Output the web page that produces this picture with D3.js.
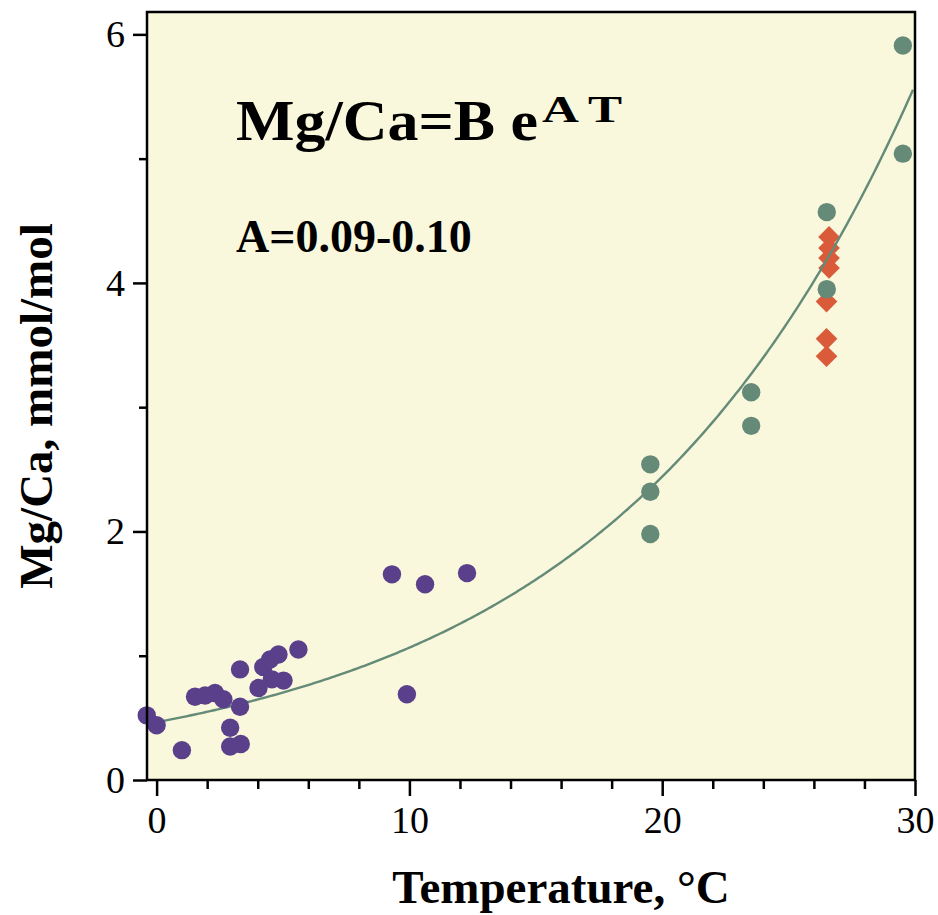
<!DOCTYPE html>
<html><head><meta charset="utf-8">
<script src="https://cdn.jsdelivr.net/npm/d3@7"></script>
<style>body{margin:0;background:#fff}svg{display:block}</style>
</head><body>
<svg id="chart" width="938" height="915"></svg>
<script>
// Data (temperature °C, Mg/Ca mmol/mol)
const coldT  = [-0.39, 0.0, 1.0, 1.52, 1.92, 2.31, 2.64, 3.30, 3.30, 2.91, 2.91, 3.33, 4.03, 4.22, 4.49, 4.82, 4.56, 5.02, 5.61, 9.90, 9.31, 10.62, 12.28];
const coldMg = [0.52, 0.44, 0.24, 0.67, 0.68, 0.70, 0.65, 0.89, 0.59, 0.42, 0.27, 0.29, 0.74, 0.91, 0.97, 1.01, 0.81, 0.80, 1.05, 0.69, 1.655, 1.575, 1.665];
const warmT  = [19.53, 19.53, 19.53, 23.52, 23.52, 26.51, 26.51, 29.52, 29.52];
const warmMg = [2.54, 2.32, 1.98, 3.12, 2.85, 4.57, 3.95, 5.91, 5.04];
const diamT  = [26.6, 26.6, 26.6, 26.6, 26.5, 26.5, 26.5];
const diamMg = [4.37, 4.28, 4.20, 4.12, 3.85, 3.55, 3.41];
// exponential fit Mg/Ca = B e^(A T)
const fitA = [0.0829];
const fitB = [0.465];
const xTicks = [0, 10, 20, 30];
const xMinor = [2, 4, 6, 8, 12, 14, 16, 18, 22, 24, 26, 28];
const yTicks = [0, 2, 4, 6];
const yMinor = [1, 3, 5];

const svg = d3.select("#chart");
const L = 147, R = 915, T = 12, B = 780;
const x = d3.scaleLinear().domain([-0.38, 30]).range([L, R]);
const y = d3.scaleLinear().domain([0, 6.18]).range([B, T]);

svg.append("rect").attr("x", L).attr("y", T).attr("width", R - L).attr("height", B - T)
  .attr("fill", "#f9f7dc");

const clip = svg.append("clipPath").attr("id", "clip");
clip.append("rect").attr("x", L).attr("y", T).attr("width", R - L).attr("height", B - T);
const plot = svg.append("g").attr("clip-path", "url(#clip)");

// diamonds
plot.selectAll("path.dia").data(diamT.map((t, i) => [t, diamMg[i]])).enter().append("path")
  .attr("class", "dia")
  .attr("d", d3.symbol().type(d3.symbolSquare).size(235)())
  .attr("transform", d => `translate(${x(d[0])},${y(d[1])}) rotate(45)`)
  .attr("fill", "#d95b3a");

// fit curve
const curveT = d3.range(-0.38, 30.01, 0.1);
plot.append("path")
  .attr("d", d3.line().x(t => x(t)).y(t => y(fitB[0] * Math.exp(fitA[0] * t)))(curveT))
  .attr("fill", "none").attr("stroke", "#648a78").attr("stroke-width", 2.4);

// points
svg.selectAll("circle.cold").data(coldT.map((t, i) => [t, coldMg[i]])).enter().append("circle")
  .attr("class", "cold").attr("cx", d => x(d[0])).attr("cy", d => y(d[1])).attr("r", 9.2)
  .attr("fill", "#5a3f8a");
plot.selectAll("circle.warm").data(warmT.map((t, i) => [t, warmMg[i]])).enter().append("circle")
  .attr("class", "warm").attr("cx", d => x(d[0])).attr("cy", d => y(d[1])).attr("r", 9.2)
  .attr("fill", "#658a78");

// frame
svg.append("rect").attr("x", L).attr("y", T).attr("width", R - L).attr("height", B - T)
  .attr("fill", "none").attr("stroke", "#000").attr("stroke-width", 2.5);

// axes
const font = "'Liberation Serif', 'Times New Roman', serif";
const xAxis = svg.append("g").attr("transform", `translate(0,${B})`)
  .call(d3.axisBottom(x).tickValues(xTicks).tickSize(16).tickPadding(10).tickFormat(d3.format("d")));
const xMin = svg.append("g").attr("transform", `translate(0,${B})`)
  .call(d3.axisBottom(x).tickValues(xMinor).tickSize(9).tickFormat(""));
const yAxis = svg.append("g").attr("transform", `translate(${L},0)`)
  .call(d3.axisLeft(y).tickValues(yTicks).tickSize(14).tickPadding(8).tickFormat(d3.format("d")));
const yMin = svg.append("g").attr("transform", `translate(${L},0)`)
  .call(d3.axisLeft(y).tickValues(yMinor).tickSize(8).tickFormat(""));
[xAxis, xMin, yAxis, yMin].forEach(g => {
  g.select(".domain").remove();
  g.selectAll("line").attr("stroke", "#000").attr("stroke-width", 2.5);
  g.selectAll("text").attr("font-family", font).attr("font-size", 38).attr("fill", "#000");
});

// axis titles
svg.append("text").attr("x", 561).attr("y", 903).attr("text-anchor", "middle")
  .attr("font-family", font).attr("font-weight", "bold").attr("font-size", 47)
  .text("Temperature, °C");
svg.append("text").attr("transform", "translate(52,406) rotate(-90)").attr("text-anchor", "middle")
  .attr("font-family", font).attr("font-weight", "bold").attr("font-size", 47)
  .text("Mg/Ca, mmol/mol");

// annotations
const t1 = svg.append("text").attr("x", 236).attr("y", 140)
  .attr("font-family", font).attr("font-weight", "bold").attr("font-size", 57);
t1.append("tspan").attr("textLength", 302).attr("lengthAdjust", "spacingAndGlyphs").text("Mg/Ca=B e");
t1.append("tspan").attr("font-size", 37).attr("dy", -18).attr("dx", 4).attr("textLength", 80)
  .attr("lengthAdjust", "spacingAndGlyphs").text("A T");
svg.append("text").attr("x", 236).attr("y", 252)
  .attr("font-family", font).attr("font-weight", "bold").attr("font-size", 46)
  .text("A=0.09-0.10");
</script>
</body></html>
